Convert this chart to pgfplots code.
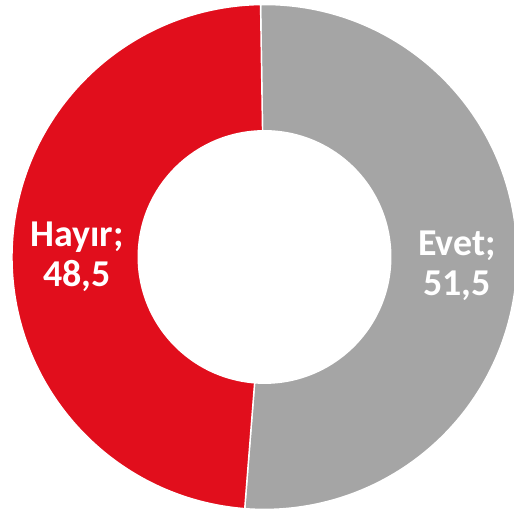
\documentclass[border=0pt]{standalone}
\usepackage{pgfplots}
\pgfplotsset{compat=1.18}
\usepackage{fontspec}
\setmainfont{Carlito}
\definecolor{evetgray}{HTML}{A5A5A5}
\definecolor{hayirred}{HTML}{E10E1C}
\def\evet{51.5}
\def\hayir{48.5}
\def\angS{90.9}
\pgfmathsetmacro\angA{\angS-3.6*\evet}
\pgfmathsetmacro\angB{\angA-3.6*\hayir}
\pgfmathsetmacro\cS{cos(\angS)}
\pgfmathsetmacro\sS{sin(\angS)}
\pgfmathsetmacro\cA{0.5*cos(\angA)}
\pgfmathsetmacro\sA{0.5*sin(\angA)}
\pgfmathsetmacro\CA{cos(\angA)}
\pgfmathsetmacro\SA{sin(\angA)}
\pgfmathsetmacro\cB{0.5*cos(\angB)}
\pgfmathsetmacro\sB{0.5*sin(\angB)}
\begin{document}
\begin{tikzpicture}
\begin{axis}[hide axis, scale only axis, width=10cm, height=9.96cm,
  xmin=-1.0475, xmax=0.988, ymin=-1.010, ymax=1.018, clip=false]
\path (rel axis cs:0,0) rectangle (rel axis cs:1,1);
\fill[overlay, evetgray, draw=white, line width=0.8pt] (axis cs:\cS,\sS) arc[start angle=\angS, end angle=\angA, radius=1]
  -- (axis cs:\cA,\sA) arc[start angle=\angA, end angle=\angS, radius=0.5] -- cycle;
\fill[overlay, hayirred, draw=white, line width=0.8pt] (axis cs:\CA,\SA) arc[start angle=\angA, end angle=\angB, radius=1]
  -- (axis cs:\cB,\sB) arc[start angle=\angB, end angle=\angA, radius=0.5] -- cycle;
\node[white, font=\fontsize{21}{22}\selectfont\bfseries, align=center] at (axis cs:0.762,-0.035) {Evet;\\51,5};
\node[white, font=\fontsize{21}{22}\selectfont\bfseries, align=center] at (axis cs:-0.743,0.0) {Hayır;\\48,5};
\end{axis}
\end{tikzpicture}
\end{document}
